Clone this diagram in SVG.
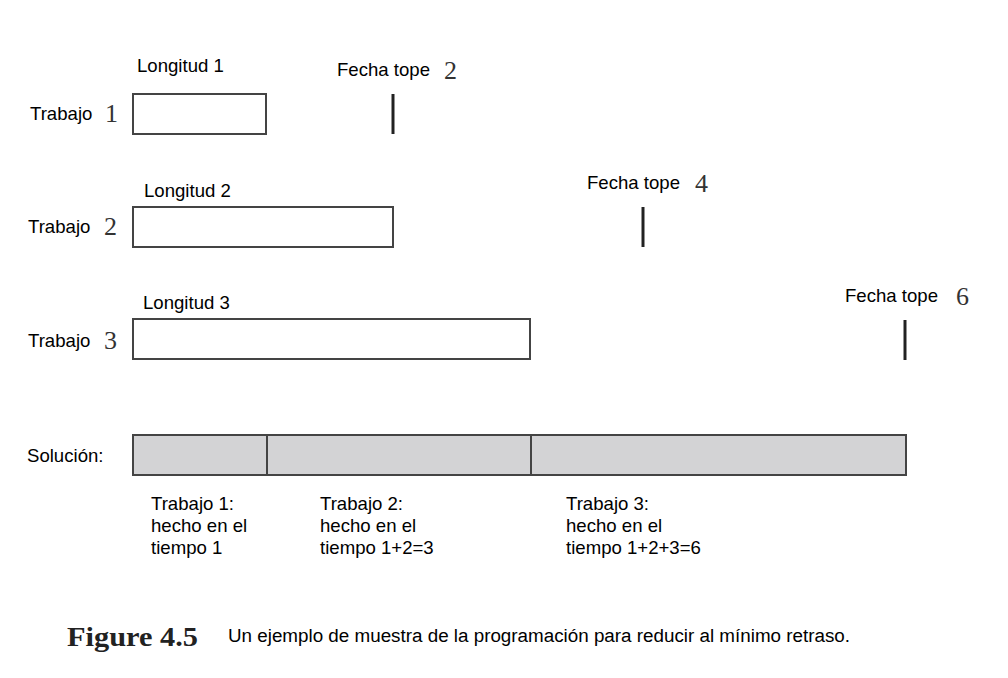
<svg xmlns="http://www.w3.org/2000/svg" width="1008" height="678" viewBox="0 0 1008 678">
<style>
.s{font-family:"Liberation Sans",Arial,sans-serif;font-size:18.6px;fill:#000}
.n{font-family:"Liberation Serif","Times New Roman",serif;font-size:26px;fill:#333}
.box{fill:#fff;stroke:#444;stroke-width:2}
.sol{fill:#d3d3d5;stroke:#444;stroke-width:2}
.dl{stroke:#222;stroke-width:3}
</style>
<rect width="1008" height="678" fill="#fff"/>
<g id="job1">
<text class="s" x="30" y="120">Trabajo</text><text class="n" x="105" y="122">1</text>
<text class="s" x="137" y="72">Longitud 1</text>
<rect class="box" x="133" y="94" width="133" height="40"/>
</g>
<g id="deadline2">
<text class="s" x="337" y="76">Fecha tope</text><text class="n" x="444" y="79">2</text>
<line class="dl" x1="393" y1="94" x2="393" y2="134"/>
</g>
<g id="job2">
<text class="s" x="28" y="233">Trabajo</text><text class="n" x="104" y="235">2</text>
<text class="s" x="144" y="197">Longitud 2</text>
<rect class="box" x="133" y="207" width="260" height="40"/>
</g>
<g id="deadline4">
<text class="s" x="587" y="189">Fecha tope</text><text class="n" x="695" y="192">4</text>
<line class="dl" x1="643" y1="207" x2="643" y2="247"/>
</g>
<g id="job3">
<text class="s" x="28" y="347">Trabajo</text><text class="n" x="104" y="349">3</text>
<text class="s" x="143" y="309">Longitud 3</text>
<rect class="box" x="133" y="319" width="397" height="40"/>
</g>
<g id="deadline6">
<text class="s" x="845" y="302">Fecha tope</text><text class="n" x="956" y="305">6</text>
<line class="dl" x1="905" y1="320" x2="905" y2="360"/>
</g>
<g id="solution">
<text class="s" x="27" y="462">Solución:</text>
<rect class="sol" x="133" y="435" width="773" height="40"/>
<line stroke="#444" stroke-width="2" x1="267" y1="435" x2="267" y2="475"/>
<line stroke="#444" stroke-width="2" x1="531" y1="435" x2="531" y2="475"/>
<text class="s" x="151" y="510">Trabajo 1:</text>
<text class="s" x="151" y="532">hecho en el</text>
<text class="s" x="151" y="554">tiempo 1</text>
<text class="s" x="320" y="510">Trabajo 2:</text>
<text class="s" x="320" y="532">hecho en el</text>
<text class="s" x="320" y="554">tiempo 1+2=3</text>
<text class="s" x="566" y="510">Trabajo 3:</text>
<text class="s" x="566" y="532">hecho en el</text>
<text class="s" x="566" y="554">tiempo 1+2+3=6</text>
</g>
<g id="caption">
<text x="67" y="646" font-family="Liberation Serif,serif" font-weight="bold" font-size="28" fill="#222" textLength="131" lengthAdjust="spacingAndGlyphs">Figure 4.5</text>
<text x="228" y="642" font-family="Liberation Sans,Arial,sans-serif" font-size="18" fill="#000" textLength="622" lengthAdjust="spacingAndGlyphs">Un ejemplo de muestra de la programación para reducir al mínimo retraso.</text>
</g>
</svg>
